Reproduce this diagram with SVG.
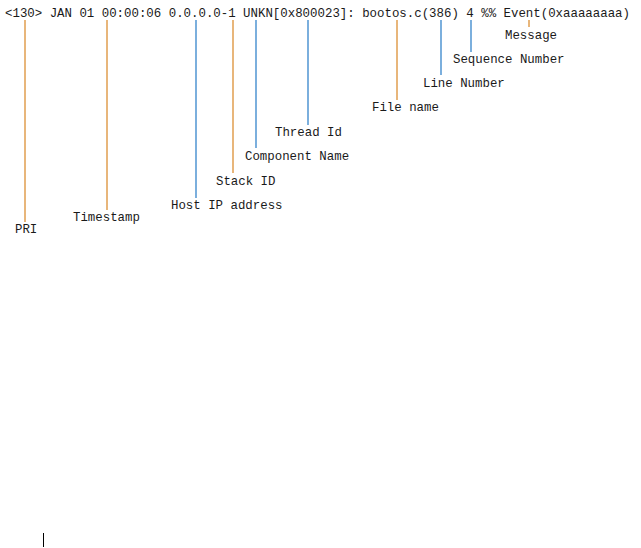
<svg xmlns="http://www.w3.org/2000/svg" width="641" height="548" viewBox="0 0 641 548">
<style>
text{font-family:"Liberation Mono","DejaVu Sans Mono",monospace;font-size:12.4px;fill:#1a1a1a}
.o{stroke:#E3A45A;stroke-width:1.6;fill:none}
.b{stroke:#5B9BD5;stroke-width:1.6;fill:none}
</style>
<rect width="641" height="548" fill="#ffffff"/>
<g id="header"><text x="5" y="17" textLength="625" lengthAdjust="spacingAndGlyphs">&lt;130&gt; JAN 01 00:00:06 0.0.0.0-1 UNKN[0x800023]: bootos.c(386) 4 %% Event(0xaaaaaaaa)</text></g>
<g id="connectors">
<line class="o" x1="25" y1="20" x2="25" y2="222"/>
<line class="o" x1="107" y1="20" x2="107" y2="210"/>
<line class="b" x1="196" y1="20" x2="196" y2="198"/>
<line class="o" x1="233" y1="20" x2="233" y2="173"/>
<line class="b" x1="256" y1="20" x2="256" y2="148"/>
<line class="b" x1="308" y1="20" x2="308" y2="125"/>
<line class="o" x1="397" y1="20" x2="397" y2="100"/>
<line class="b" x1="441" y1="20" x2="441" y2="75"/>
<line class="b" x1="471" y1="20" x2="471" y2="52"/>
<line class="o" x1="529" y1="20" x2="529" y2="27"/>
<line x1="43.5" y1="533" x2="43.5" y2="547" stroke="#000" stroke-width="1"/>
</g>
<g id="message"><text x="505" y="39">Message</text></g>
<g id="sequence"><text x="453" y="63">Sequence Number</text></g>
<g id="linenumber"><text x="423" y="87">Line Number</text></g>
<g id="filename"><text x="372" y="111">File name</text></g>
<g id="thread"><text x="275" y="136">Thread Id</text></g>
<g id="component"><text x="245" y="160">Component Name</text></g>
<g id="stack"><text x="216" y="185">Stack ID</text></g>
<g id="hostip"><text x="171" y="209">Host IP address</text></g>
<g id="timestamp"><text x="73" y="221">Timestamp</text></g>
<g id="pri"><text x="15" y="233">PRI</text></g>
</svg>
